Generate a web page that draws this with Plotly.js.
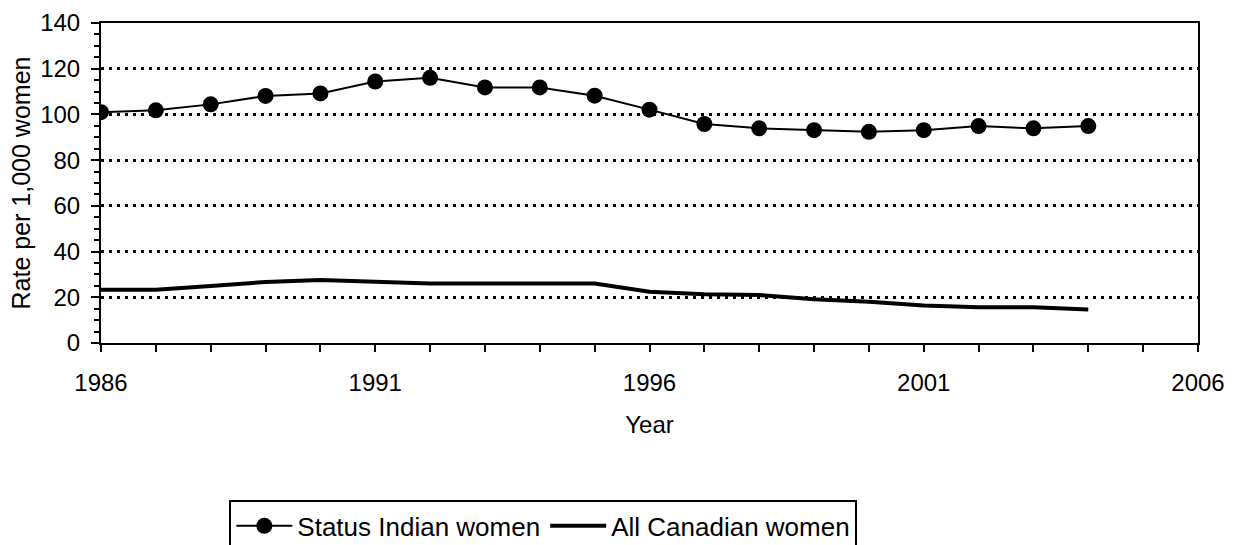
<!DOCTYPE html>
<html>
<head>
<meta charset="utf-8">
<script src="https://cdn.plot.ly/plotly-3.0.1.min.js"></script>
<style>
  html, body { margin: 0; padding: 0; background: #ffffff; }
  #chart { width: 1233px; height: 545px; }
</style>
</head>
<body>
<div id="chart"></div>
<script>
const years = [1986, 1987, 1988, 1989, 1990, 1991, 1992, 1993, 1994, 1995, 1996, 1997, 1998, 1999, 2000, 2001, 2002, 2003, 2004];
const statusIndianWomen = [101, 101.8, 104.4, 108.1, 109.2, 114.4, 116, 111.8, 111.8, 108.2, 102.1, 95.8, 93.9, 93.1, 92.4, 93.1, 94.9, 93.9, 94.9];
const allCanadianWomen = [23.3, 23.3, 24.9, 26.7, 27.6, 26.8, 26, 26, 26, 26, 22.4, 21.3, 21, 19.1, 18.1, 16.4, 15.6, 15.6, 14.7];
const seriesNames = ["Status Indian women", "All Canadian women"];
const xTitle = "Year";
const yTitle = "Rate per 1,000 women";

const FONT = "'Liberation Sans', Arial, sans-serif";

const traces = [
  {
    x: years, y: statusIndianWomen, name: seriesNames[0],
    type: "scatter", mode: "lines+markers",
    line: { color: "#000000", width: 2 },
    marker: { color: "#000000", size: 16, symbol: "circle" }
  },
  {
    x: years, y: allCanadianWomen, name: seriesNames[1],
    type: "scatter", mode: "lines",
    line: { color: "#000000", width: 4 }
  }
];

const layout = {
  width: 1233, height: 545,
  paper_bgcolor: "#ffffff", plot_bgcolor: "#ffffff",
  font: { family: FONT, size: 24, color: "#000000" },
  margin: { l: 101, r: 35, t: 23, b: 202, autoexpand: false },
  showlegend: true,
  legend: {
    orientation: "h",
    x: 0.117, xanchor: "left",
    y: -0.492, yanchor: "top",
    bordercolor: "#000000", borderwidth: 2,
    bgcolor: "#ffffff",
    font: { family: FONT, size: 26, color: "#000000" },
    itemwidth: 56,
    traceorder: "normal"
  },
  xaxis: {
    range: [1986, 2006],
    tickmode: "linear", tick0: 1986, dtick: 5,
    ticks: "outside", ticklen: 7, tickwidth: 2, tickcolor: "#000000",
    minor: { tickmode: "linear", tick0: 1986, dtick: 1, ticks: "outside", ticklen: 7, tickwidth: 2, tickcolor: "#000000", showgrid: false },
    showline: true, linecolor: "#000000", linewidth: 2, mirror: true,
    showgrid: false, zeroline: false,
    ticklabelstandoff: 10,
    tickfont: { family: FONT, size: 24, color: "#000000" },
    title: { text: xTitle, font: { family: FONT, size: 24, color: "#000000" }, standoff: 21 }
  },
  yaxis: {
    range: [0, 140],
    tickmode: "linear", tick0: 0, dtick: 20,
    ticks: "outside", ticklen: 8, tickwidth: 2, tickcolor: "#000000",
    minor: { tickmode: "linear", tick0: 0, dtick: 5, ticks: "outside", ticklen: 5, tickwidth: 2, tickcolor: "#000000", showgrid: false },
    showline: true, linecolor: "#000000", linewidth: 2, mirror: true,
    showgrid: true, gridcolor: "#000000", gridwidth: 3, griddash: "3px,5px",
    zeroline: false,
    ticklabelstandoff: 6,
    tickfont: { family: FONT, size: 24, color: "#000000" },
    title: { text: yTitle, font: { family: FONT, size: 25, color: "#000000" }, standoff: 2 }
  }
};

Plotly.newPlot("chart", traces, layout, { displayModeBar: false, staticPlot: true });
</script>
</body>
</html>
